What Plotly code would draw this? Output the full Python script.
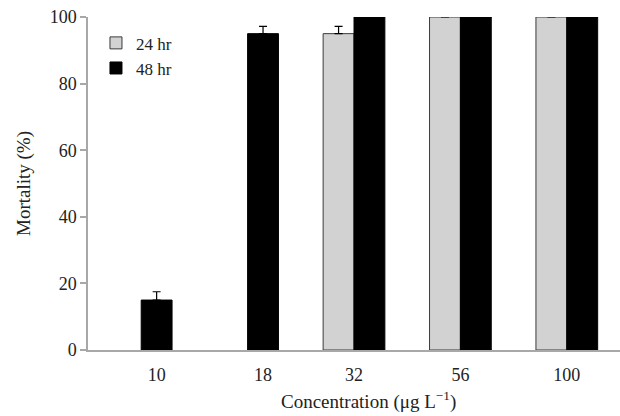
import plotly.graph_objects as go

categories = ["10", "18", "32", "56", "100"]
mort_24 = [None, None, 95, 100, 100]
err_24 = [0, 0, 2.2, 0, 0]
mort_48 = [15, 95, 100, 100, 100]
err_48 = [2.5, 2.2, 0, 0, 0]

BAR_W = 0.29
xpos = list(range(len(categories)))
# label sits over the 48 hr bar when the 24 hr bar is absent
tickpos = [i + (BAR_W / 2 if v is None else 0) for i, v in zip(xpos, mort_24)]

fig = go.Figure()
fig.add_trace(go.Bar(
    name="24 hr", x=xpos, y=mort_24, width=BAR_W, offset=-BAR_W,
    marker=dict(color="#d2d2d2", line=dict(color="#3a3a3a", width=1)),
    error_y=dict(type="data", symmetric=False, array=err_24,
                 arrayminus=[0] * 5, color="#000", thickness=1.2, width=4),
))
fig.add_trace(go.Bar(
    name="48 hr", x=xpos, y=mort_48, width=BAR_W, offset=0,
    marker=dict(color="#000000", line=dict(color="#000000", width=1)),
    error_y=dict(type="data", symmetric=False, array=err_48,
                 arrayminus=[0] * 5, color="#000", thickness=1.2, width=4),
))

font = "Liberation Serif, Times New Roman, serif"
fig.update_layout(
    width=620, height=416,
    margin=dict(l=88, r=0, t=17, b=66),
    barmode="overlay",
    paper_bgcolor="white", plot_bgcolor="white",
    font=dict(family=font, size=17, color="#222"),
    showlegend=True,
    legend=dict(x=0.015, y=0.975, xanchor="left", yanchor="top",
                font=dict(family=font, size=17, color="#222"),
                bgcolor="rgba(0,0,0,0)", tracegroupgap=0),
    xaxis=dict(
        range=[-0.5, 4.5], tickmode="array", tickvals=tickpos,
        ticktext=categories, showgrid=False, zeroline=False,
        showline=True, linecolor="#a8a8a8", linewidth=1.5, ticks="",
        ticklabelstandoff=8, tickfont=dict(size=18),
    ),
    yaxis=dict(
        range=[0, 100], tickvals=[0, 20, 40, 60, 80, 100],
        showgrid=False, zeroline=False, showline=True,
        linecolor="#a8a8a8", linewidth=1.5, ticks="outside", ticklen=6,
        tickcolor="#a8a8a8", tickwidth=1.5, tickfont=dict(size=18),
        title=dict(text="Mortality (%)", standoff=14, font=dict(size=19)),
    ),
    annotations=[dict(
        text="Concentration (μg L<sup>−1</sup>)", xref="paper", yref="paper",
        x=0.528, y=-0.196, xanchor="center", yanchor="bottom", showarrow=False,
        font=dict(family=font, size=19, color="#222"),
    )],
)

fig.write_html("out.html", config={"displayModeBar": False},
               post_script="document.body.style.margin='0';")
